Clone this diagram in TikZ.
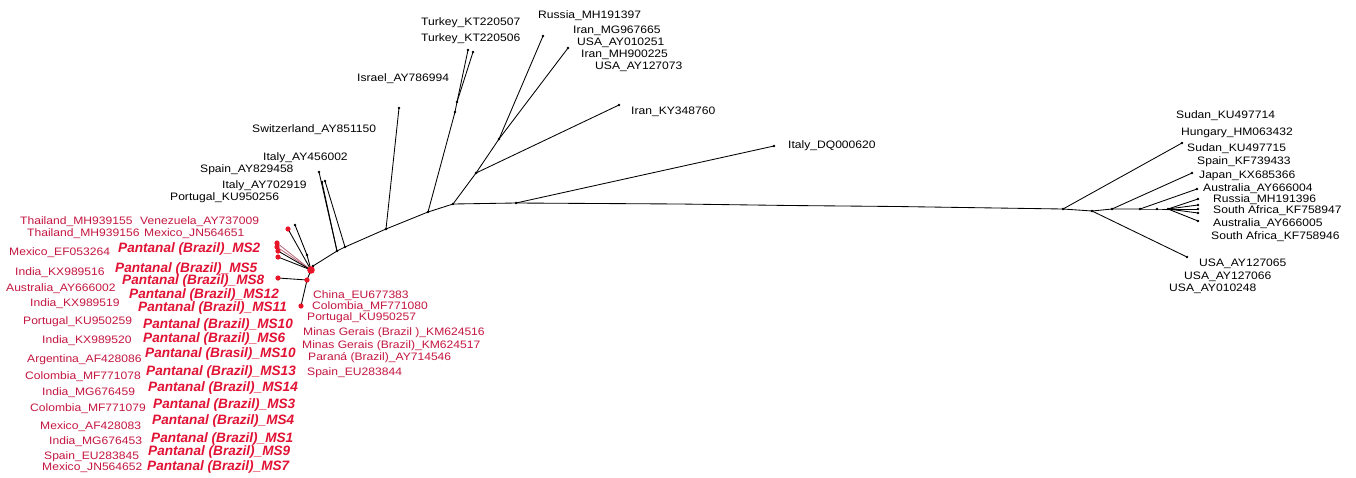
\documentclass[tikz,border=0pt]{standalone}
\usepackage{fontspec}
\setmainfont{Liberation Sans}[FakeStretch=1.12]
\newfontfamily\pfont{Liberation Sans}
\definecolor{lab}{RGB}{196,22,64}
\definecolor{pan}{RGB}{226,18,52}
\definecolor{dotred}{RGB}{232,20,40}
\definecolor{pinkl}{RGB}{185,110,130}
\tikzset{
 lbl/.style={anchor=west, inner sep=0pt, font=\fontsize{10.8}{10.8}\selectfont, text=black},
 rlbl/.style={lbl, text=lab},
 plbl/.style={anchor=west, inner sep=0pt, font=\pfont\bfseries\itshape\fontsize{13.6}{13.6}\selectfont, text=pan},
 br/.style={draw=black, line width=0.85pt},
 pbr/.style={draw=pinkl, line width=0.85pt},
}
\newcommand{\bdot}[1]{\fill[black] (#1) circle (1.3);}
\newcommand{\rdot}[1]{\fill[dotred] (#1) circle (2.6);}
\begin{document}
\begin{tikzpicture}[x=1pt,y=-1pt]
\useasboundingbox[fill=white] (0,0) rectangle (1356,477);
% ---------- tree coordinates ----------
\coordinate (c0) at (311,270);
\coordinate (c1) at (307,280);
\coordinate (ms8) at (278,278);
\coordinate (ms11) at (301,306);
\coordinate (tr1) at (288,229);
\coordinate (tb1) at (295,225);
\coordinate (nb) at (307,255);
\coordinate (tr2) at (277,243);
\coordinate (tr3) at (277,247);
\coordinate (tr4) at (278,251);
\coordinate (tr5) at (278,257);
\coordinate (b0) at (313,266);
\coordinate (b1) at (337,251);
\coordinate (b2) at (345,247);
\coordinate (b3) at (386,229);
\coordinate (b4) at (428,212);
\coordinate (b5) at (453,204);
\coordinate (b6) at (516,203);
\coordinate (h1) at (680,204);
\coordinate (h2) at (790,205.5);
\coordinate (h3) at (897,206.5);
\coordinate (it1) at (319,172);
\coordinate (it2) at (322,182);
\coordinate (it3) at (325,181);
\coordinate (sw) at (399,108);
\coordinate (tk0) at (455,112);
\coordinate (tk1) at (457,102);
\coordinate (tk2) at (468,50);
\coordinate (tk3) at (473,52);
\coordinate (i1) at (476,173);
\coordinate (i2) at (499,139);
\coordinate (iky) at (619,105);
\coordinate (ru) at (543,36);
\coordinate (us) at (568,48);
\coordinate (idq) at (774,146);
\coordinate (r0) at (1063,209);
\coordinate (r1) at (1092,211);
\coordinate (r2) at (1112,209);
\coordinate (r3) at (1140,209);
\coordinate (r4) at (1157,209);
\coordinate (r5) at (1168,209);
\coordinate (rs) at (1182,143);
\coordinate (rj) at (1192,173);
\coordinate (ra) at (1197,189);
\coordinate (rusa) at (1187,257);
\coordinate (f1) at (1198,199);
\coordinate (f2) at (1198,205);
\coordinate (f3) at (1198,209);
\coordinate (f4) at (1198,213);
\coordinate (f5) at (1198,221);
% ---------- branches ----------
\draw[br] (c0) -- (c1) -- (ms8);
\draw[br] (c1) -- (ms11);
\draw[br] (c0) -- (tr1);
\draw[br] (c0) -- (nb) -- (tb1);
\draw[pbr] (c0) -- (tr2);
\draw[pbr] (c0) -- (tr3);
\draw[br] (c0) -- (tr4);
\draw[br] (c0) -- (tr5);
\draw[br] (c0) -- (b0) -- (b1) -- (b2) -- (b3) -- (b4) -- (b5) -- (b6) -- (h1) -- (h2) -- (h3) -- (r0);
\draw[br] (b1) -- (it1);
\draw[br] (b1) -- (it2);
\draw[br] (b2) -- (it3);
\draw[br] (b3) -- (sw);
\draw[br] (b4) -- (tk0) -- (tk1) -- (tk2);
\draw[br] (tk1) -- (tk3);
\draw[br] (b5) -- (i1) -- (iky);
\draw[br] (i1) -- (i2) -- (ru);
\draw[br] (i2) -- (us);
\draw[br] (b6) -- (idq);
\draw[br] (r0) -- (rs);
\draw[br] (r0) -- (r1) -- (rusa);
\draw[br] (r1) -- (r2) -- (rj);
\draw[br] (r2) -- (r3) -- (ra);
\draw[br] (r3) -- (r4) -- (r5);
\foreach \f in {f1,f2,f3,f4,f5} {\draw[br] (r5) -- (\f);}
% ---------- dots ----------
\foreach \p in {tb1,nb,b0,b1,b2,b3,b4,b5,b6,it1,it2,it3,sw,tk0,tk1,tk2,tk3,i1,i2,iky,ru,us,idq,r0,r1,r2,r3,r4,r5,rs,rj,ra,rusa,f1,f2,f3,f4,f5} {\bdot{\p}}
\foreach \p in {c1,ms8,ms11,tr1,tr2,tr3,tr4,tr5} {\rdot{\p}}
\fill[dotred] (c0) circle (3.8);
% ---------- black labels ----------
\node[lbl] (l1) at (421,23) {Turkey\_KT220507};
\node[lbl] (l2) at (421,39) {Turkey\_KT220506};
\node[lbl] (l3) at (357,79) {Israel\_AY786994};
\node[lbl] (l4) at (252,130) {Switzerland\_AY851150};
\node[lbl] (l5) at (263,158) {Italy\_AY456002};
\node[lbl] (l6) at (200,170) {Spain\_AY829458};
\node[lbl] (l7) at (222,186) {Italy\_AY702919};
\node[lbl] (l8) at (170,198) {Portugal\_KU950256};
\node[lbl] (l9) at (538,16) {Russia\_MH191397};
\node[lbl] (l10) at (573,31) {Iran\_MG967665};
\node[lbl] (l11) at (577,43) {USA\_AY010251};
\node[lbl] (l12) at (581,55) {Iran\_MH900225};
\node[lbl] (l13) at (595,67) {USA\_AY127073};
\node[lbl] (l14) at (631,112) {Iran\_KY348760};
\node[lbl] (l15) at (788,146) {Italy\_DQ000620};
\node[lbl] (l16) at (1176,116) {Sudan\_KU497714};
\node[lbl] (l17) at (1181,133) {Hungary\_HM063432};
\node[lbl] (l18) at (1187,149) {Sudan\_KU497715};
\node[lbl] (l19) at (1197,162) {Spain\_KF739433};
\node[lbl] (l20) at (1199,176) {Japan\_KX685366};
\node[lbl] (l21) at (1203,189) {Australia\_AY666004};
\node[lbl] (l22) at (1213,200) {Russia\_MH191396};
\node[lbl] (l23) at (1213,211) {South Africa\_KF758947};
\node[lbl] (l24) at (1213,224) {Australia\_AY666005};
\node[lbl] (l25) at (1211,237) {South Africa\_KF758946};
\node[lbl] (l26) at (1199,264) {USA\_AY127065};
\node[lbl] (l27) at (1184,277) {USA\_AY127066};
\node[lbl] (l28) at (1169,289) {USA\_AY010248};
% ---------- red labels ----------
\node[rlbl] (m1) at (20,222) {Thailand\_MH939155};
\node[rlbl] (m2) at (140,222) {Venezuela\_AY737009};
\node[rlbl] (m3) at (27,234) {Thailand\_MH939156};
\node[rlbl] (m4) at (144,234) {Mexico\_JN564651};
\node[rlbl] (m5) at (9,253) {Mexico\_EF053264};
\node[rlbl] (m6) at (15,273) {India\_KX989516};
\node[rlbl] (m7) at (6,289) {Australia\_AY666002};
\node[rlbl] (m8) at (30,304) {India\_KX989519};
\node[rlbl] (m9) at (23,322) {Portugal\_KU950259};
\node[rlbl] (m10) at (42,341) {India\_KX989520};
\node[rlbl] (m11) at (27,360) {Argentina\_AF428086};
\node[rlbl] (m12) at (25,377) {Colombia\_MF771078};
\node[rlbl] (m13) at (42,393) {India\_MG676459};
\node[rlbl] (m14) at (30,409) {Colombia\_MF771079};
\node[rlbl] (m15) at (40,427) {Mexico\_AF428083};
\node[rlbl] (m16) at (49,442) {India\_MG676453};
\node[rlbl] (m17) at (44,456.5) {Spain\_EU283845};
\node[rlbl] (m18) at (42,467.5) {Mexico\_JN564652};
\node[rlbl] (m19) at (313,296) {China\_EU677383};
\node[rlbl] (m20) at (312,307) {Colombia\_MF771080};
\node[rlbl] (m21) at (307,318) {Portugal\_KU950257};
\node[rlbl] (m22) at (303,333) {Minas Gerais (Brazil )\_KM624516};
\node[rlbl] (m23) at (302,346) {Minas Gerais (Brazil)\_KM624517};
\node[rlbl] (m24) at (308,358) {Paraná (Brazil)\_AY714546};
\node[rlbl] (m25) at (307,373) {Spain\_EU283844};
% ---------- Pantanal labels ----------
\node[plbl] (p2) at (118,249) {Pantanal (Brazil)\_MS2};
\node[plbl] (p5) at (115,268.5) {Pantanal (Brazil)\_MS5};
\node[plbl] (p8) at (122,281) {Pantanal (Brazil)\_MS8};
\node[plbl] (p12) at (129,295) {Pantanal (Brazil)\_MS12};
\node[plbl] (p11) at (138,307.5) {Pantanal (Brazil)\_MS11};
\node[plbl] (p10) at (143,325) {Pantanal (Brazil)\_MS10};
\node[plbl] (p6) at (143,339) {Pantanal (Brazil)\_MS6};
\node[plbl] (p10b) at (145,354) {Pantanal (Brasil)\_MS10};
\node[plbl] (p13) at (146,372) {Pantanal (Brazil)\_MS13};
\node[plbl] (p14) at (148,388) {Pantanal (Brazil)\_MS14};
\node[plbl] (p3) at (153,405) {Pantanal (Brazil)\_MS3};
\node[plbl] (p4) at (152,421) {Pantanal (Brazil)\_MS4};
\node[plbl] (p1) at (151,438.5) {Pantanal (Brazil)\_MS1};
\node[plbl] (p9) at (148,451.5) {Pantanal (Brazil)\_MS9};
\node[plbl] (p7) at (147,467) {Pantanal (Brazil)\_MS7};
\end{tikzpicture}
\end{document}
